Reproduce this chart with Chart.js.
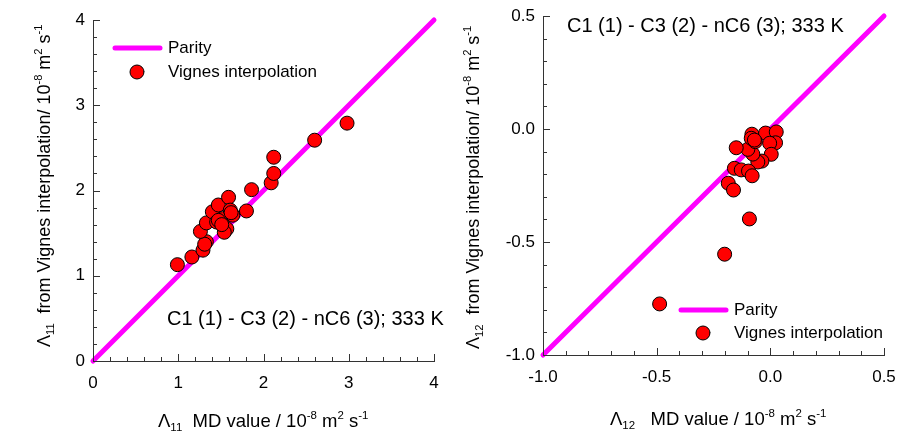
<!DOCTYPE html>
<html>
<head>
<meta charset="utf-8">
<script src="https://cdn.jsdelivr.net/npm/chart.js@4"></script>
<style>
  body { margin: 0; background: #fff; }
  #wrap { position: relative; width: 899px; height: 431px; }
  canvas { position: absolute; top: 0; }
</style>
</head>
<body>
<div id="wrap">
  <canvas id="left" width="450" height="431" style="left:0"></canvas>
  <canvas id="right" width="450" height="431" style="left:449px"></canvas>
</div>
<script>
// Lambda_11: MD value (x) vs Vignes interpolation (y)
const l11X = [0.99, 1.16, 1.29, 1.33, 1.31, 1.26, 1.33, 1.40, 1.47, 1.59, 1.45, 1.52, 1.57, 1.54, 1.61, 1.64, 1.47, 1.51, 1.62, 1.80, 1.86, 2.09, 2.12, 2.12, 2.60, 2.98];
const l11Y = [1.13, 1.22, 1.30, 1.40, 1.37, 1.52, 1.62, 1.75, 1.83, 1.92, 1.63, 1.67, 1.55, 1.51, 1.77, 1.71, 1.65, 1.60, 1.74, 1.76, 2.01, 2.09, 2.20, 2.39, 2.59, 2.79];
// Lambda_12
const l12X = [-0.081, -0.021, 0.026, 0.023, -0.003, 0.004, -0.037, -0.055, -0.077, -0.099, -0.150, -0.066, -0.084, -0.070, -0.158, -0.128, -0.096, -0.080, -0.185, -0.162, -0.092, -0.201, -0.487];
const l12Y = [-0.023, -0.018, -0.013, -0.061, -0.063, -0.112, -0.142, -0.146, -0.111, -0.090, -0.083, -0.056, -0.041, -0.049, -0.174, -0.181, -0.186, -0.207, -0.240, -0.270, -0.398, -0.554, -0.774];
// parity lines
const parity11 = [0, 4];
const parity12 = [-1, 0.5];
const seriesNames = ['Parity', 'Vignes interpolation'];
const systemLabel = 'C1 (1) - C3 (2) - nC6 (3); 333 K';

const FONT = 'Arial, "Liberation Sans", sans-serif';
const AXIS = '#333';
Chart.defaults.font.family = FONT;
Chart.defaults.font.size = 17;
Chart.defaults.color = '#000';

function toPts(xs, ys) {
    return xs.map((x, i) => ({ x: x, y: ys[i] }));
}

// draws text with sub/superscripts, left aligned at baseline
function drawRich(ctx, segs, x, y, size) {
    let cx = x;
    segs.forEach(s => {
        const small = s.sub || s.sup;
        const fs = small ? size * 0.62 : size;
        ctx.font = fs + 'px ' + FONT;
        const dy = s.sub ? size * 0.22 : (s.sup ? -size * 0.42 : 0);
        ctx.fillText(s.t, cx, y + dy);
        cx += ctx.measureText(s.t).width;
    });
}

const decor = {
    id: 'decor',
    afterDraw(chart, args, o) {
        const ctx = chart.ctx;
        const xs = chart.scales.x, ys = chart.scales.y;
        const area = chart.chartArea;
        ctx.save();
        // inward ticks
        ctx.strokeStyle = AXIS;
        ctx.lineWidth = 1;
        ctx.beginPath();
        const n = Math.round((xs.max - xs.min) / o.minor);
        for (let i = 0; i <= n; i++) {
            const v = xs.min + i * o.minor;
            const major = Math.abs(v / o.major - Math.round(v / o.major)) < 1e-6;
            const len = major ? 7 : 4;
            const px = Math.round(xs.getPixelForValue(v)) + 0.5;
            ctx.moveTo(px, area.bottom);
            ctx.lineTo(px, area.bottom - len);
            const py = Math.round(ys.getPixelForValue(v)) + 0.5;
            ctx.moveTo(area.left, py);
            ctx.lineTo(area.left + len, py);
        }
        ctx.stroke();

        // legend
        const line = chart.data.datasets[1], pts = chart.data.datasets[0];
        const lg = o.legend;
        ctx.strokeStyle = line.borderColor;
        ctx.lineWidth = line.borderWidth;
        ctx.lineCap = 'round';
        ctx.beginPath();
        ctx.moveTo(lg.x0, lg.y0);
        ctx.lineTo(lg.x1, lg.y0);
        ctx.stroke();
        ctx.beginPath();
        ctx.arc(lg.mx, lg.y1, pts.pointRadius, 0, Math.PI * 2);
        ctx.fillStyle = pts.backgroundColor;
        ctx.fill();
        ctx.lineWidth = 1;
        ctx.strokeStyle = pts.borderColor;
        ctx.stroke();
        ctx.fillStyle = '#000';
        ctx.font = '17px ' + FONT;
        ctx.textBaseline = 'middle';
        ctx.fillText(line.label, lg.tx, lg.y0);
        ctx.fillText(pts.label, lg.tx, lg.y1);

        // system note
        ctx.font = '20px ' + FONT;
        ctx.fillText(systemLabel, o.note.x, o.note.y);

        // axis titles
        ctx.textBaseline = 'alphabetic';
        drawRich(ctx, o.xTitle, o.xt.x, o.xt.y, 18.5);
        ctx.translate(o.yt.x, o.yt.y);
        ctx.rotate(-Math.PI / 2);
        drawRich(ctx, o.yTitle, 0, 0, 18);
        ctx.restore();
    }
};

function unitSegs(sub, text) {
    return [{ t: 'Λ' }, { t: sub, sub: true }, { t: text }, { t: '-8', sup: true },
        { t: ' m' }, { t: '2', sup: true }, { t: ' s' }, { t: '-1', sup: true }];
}

function noPad(s) {
    s.paddingLeft = 0;
    s.paddingRight = 0;
    s.paddingTop = 0;
    s.paddingBottom = 0;
}

function makeChart(id, cfg) {
    return new Chart(document.getElementById(id), {
        type: 'scatter',
        data: {
            datasets: [{
                label: seriesNames[1],
                data: cfg.points,
                pointRadius: 7,
                pointHoverRadius: 7,
                backgroundColor: '#FF0000',
                borderColor: '#000',
                borderWidth: 1,
                clip: false,
                order: 0
            }, {
                label: seriesNames[0],
                type: 'line',
                data: toPts(cfg.parity, cfg.parity),
                borderColor: '#FF00FF',
                borderWidth: 5,
                borderCapStyle: 'round',
                pointRadius: 0,
                clip: false,
                order: 1
            }]
        },
        options: {
            responsive: false,
            animation: false,
            devicePixelRatio: 1,
            layout: { padding: cfg.pad },
            plugins: {
                legend: { display: false },
                tooltip: { enabled: false },
                decor: cfg.decor
            },
            scales: {
                x: {
                    type: 'linear',
                    min: cfg.parity[0], max: cfg.parity[1],
                    grid: { display: false, drawTicks: false },
                    border: { color: AXIS, width: 1 },
                    ticks: { stepSize: cfg.step, padding: 12, callback: cfg.fmt },
                    afterFit: s => { s.height = cfg.xh; noPad(s); }
                },
                y: {
                    type: 'linear',
                    min: cfg.parity[0], max: cfg.parity[1],
                    grid: { display: false, drawTicks: false },
                    border: { color: AXIS, width: 1 },
                    ticks: { stepSize: cfg.step, padding: 8, callback: cfg.fmt },
                    afterFit: s => { s.width = cfg.yw; noPad(s); }
                }
            }
        },
        plugins: [decor]
    });
}

makeChart('left', {
    points: toPts(l11X, l11Y),
    parity: parity11,
    step: 1,
    fmt: v => String(v),
    pad: { left: 0, right: 16, top: 20, bottom: 0 },
    xh: 70, yw: 93,
    decor: {
        minor: 0.2, major: 1,
        legend: { x0: 115, x1: 160, y0: 48, y1: 72, mx: 137, tx: 168 },
        note: { x: 167, y: 319 },
        xTitle: unitSegs('11', '  MD value / 10'),
        yTitle: unitSegs('11', '  from Vignes interpolation/ 10'),
        xt: { x: 158, y: 427 },
        yt: { x: 50, y: 347 }
    }
});

makeChart('right', {
    points: toPts(l12X, l12Y),
    parity: parity12,
    step: 0.5,
    fmt: v => v.toFixed(1),
    pad: { left: 0, right: 15, top: 16, bottom: 0 },
    xh: 76, yw: 94,
    decor: {
        minor: 0.1, major: 0.5,
        legend: { x0: 232, x1: 277, y0: 310, y1: 333, mx: 254, tx: 285 },
        note: { x: 118, y: 26 },
        xTitle: unitSegs('12', '   MD value / 10'),
        yTitle: unitSegs('12', '  from Vignes interpolation/ 10'),
        xt: { x: 161, y: 425 },
        yt: { x: 30, y: 349 }
    }
});
</script>
</body>
</html>
